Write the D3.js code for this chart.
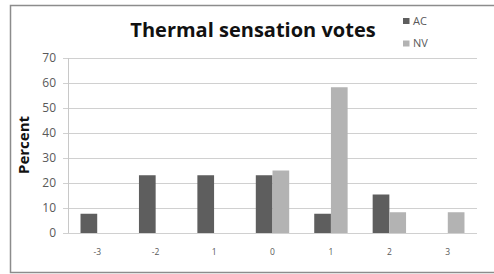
<!DOCTYPE html>
<html>
<head>
<meta charset="utf-8">
<script src="https://d3js.org/d3.v7.min.js"></script>
<style>
  body { margin: 0; background: #fff; }
  svg { display: block; font-family: "Open Sans", "Liberation Sans", sans-serif; }
</style>
</head>
<body>
<svg id="chart" width="494" height="274"></svg>
<script>
// data
const categories = ["-3", "-2", "1", "0", "1 ", "2", "3"];
const tickLabels = ["-3", "-2", "1", "0", "1", "2", "3"];
const seriesNames = ["AC", "NV"];
const acValues = [7.7, 23.1, 23.1, 23.1, 7.7, 15.4, 0];
const nvValues = [0, 0, 0, 25, 58.3, 8.3, 8.3];
const yTicks = [0, 10, 20, 30, 40, 50, 60, 70];
const colors = ["#5e5e5e", "#b3b3b3"];

const svg = d3.select("#chart");

// frame
svg.append("path")
  .attr("d", "M494,5.5 H10.5 V272.5 H494")
  .attr("fill", "none")
  .attr("stroke", "#8c8c8c")
  .attr("stroke-width", 1.5);

const plot = { left: 68, right: 477, top: 58, bottom: 233 };

const x = d3.scaleBand().domain(categories).range([plot.left, plot.right]).paddingInner(0).paddingOuter(0);
const barW = x.bandwidth() / 3.5;
const y = d3.scaleLinear().domain([0, 70]).range([plot.bottom, plot.top]);

// gridlines
svg.append("g").selectAll("line")
  .data(yTicks)
  .join("line")
  .attr("x1", plot.left - 5).attr("x2", plot.right)
  .attr("y1", d => Math.round(y(d)) + 0.5).attr("y2", d => Math.round(y(d)) + 0.5)
  .attr("stroke", "#d0d0d0");

// y axis line
svg.append("line")
  .attr("x1", plot.left + 0.5).attr("x2", plot.left + 0.5)
  .attr("y1", plot.top).attr("y2", plot.bottom)
  .attr("stroke", "#c8c8c8");

// y tick labels
svg.append("g").selectAll("text")
  .data(yTicks)
  .join("text")
  .attr("x", 56)
  .attr("y", d => y(d))
  .attr("dy", "0.35em")
  .attr("text-anchor", "end")
  .attr("font-size", 12)
  .attr("fill", "#595959")
  .text(d => d);

// bars
const series = [acValues, nvValues];
series.forEach((vals, s) => {
  svg.append("g").selectAll("rect")
    .data(vals)
    .join("rect")
    .attr("x", (d, i) => x(categories[i]) + barW * 0.75 + s * barW)
    .attr("y", d => y(d))
    .attr("width", barW)
    .attr("height", d => y(0) - y(d))
    .attr("fill", colors[s]);
});

// x tick labels
svg.append("g").selectAll("text")
  .data(categories)
  .join("text")
  .attr("x", d => x(d) + x.bandwidth() / 2)
  .attr("y", 252)
  .attr("dy", "0.35em")
  .attr("text-anchor", "middle")
  .attr("font-size", 8.5)
  .attr("fill", "#595959")
  .text((d, i) => tickLabels[i]);

// title
svg.append("text")
  .attr("x", 253)
  .attr("y", 37)
  .attr("text-anchor", "middle")
  .attr("font-size", 20)
  .attr("font-weight", "bold")
  .attr("fill", "#111")
  .text("Thermal sensation votes");

// y label
svg.append("text")
  .attr("transform", "translate(29,145) rotate(-90)")
  .attr("text-anchor", "middle")
  .attr("font-size", 15)
  .attr("font-weight", "bold")
  .attr("fill", "#111")
  .text("Percent");

// legend
const legend = svg.append("g").selectAll("g")
  .data(seriesNames)
  .join("g")
  .attr("transform", (d, i) => `translate(403,${18 + i * 22.5})`);
legend.append("rect")
  .attr("width", 6.5).attr("height", 6)
  .attr("fill", (d, i) => colors[i]);
legend.append("text")
  .attr("x", 10)
  .attr("y", 3)
  .attr("dy", "0.35em")
  .attr("font-size", 11)
  .attr("fill", "#595959")
  .text(d => d);
</script>
</body>
</html>
